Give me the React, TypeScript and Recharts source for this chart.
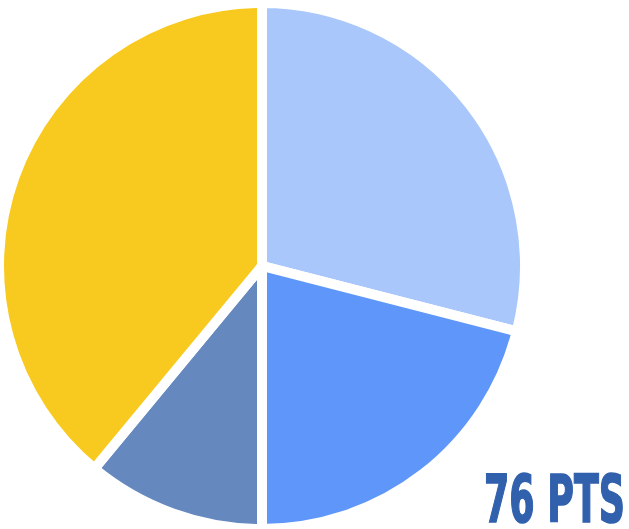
import React from "react";
import { PieChart, Pie, Cell } from "recharts";

const segments = ["Light", "Medium", "Dark", "Gold"];
const shares = [29, 21, 11, 39];
const colors = ["#A9C7FB", "#5E97F9", "#6588BF", "#F8CA1F"];
const totalLabel = "76 PTS";

const data = segments.map((name, i) => ({ name, value: shares[i] }));

export default function App() {
  return (
    <div style={{ position: "fixed", left: 0, top: 0, width: 629, height: 529, background: "#fff" }}>
      <PieChart width={629} height={529} margin={{ top: 0, right: 0, bottom: 0, left: 0 }}>
        <Pie
          data={data}
          dataKey="value"
          nameKey="name"
          cx={262}
          cy={266}
          outerRadius={263}
          startAngle={90}
          endAngle={-270}
          stroke="#ffffff"
          strokeWidth={10}
          isAnimationActive={false}
        >
          {data.map((d, i) => (
            <Cell key={d.name} fill={colors[i]} />
          ))}
        </Pie>
      </PieChart>
      <svg width={629} height={529} style={{ position: "absolute", left: 0, top: 0, pointerEvents: "none" }}>
        <g transform="translate(484,522) scale(1,1.62)">
          <text
            x={0}
            y={0}
            textLength={141}
            lengthAdjust="spacingAndGlyphs"
            fill="#3161AD"
            stroke="#3161AD"
            strokeWidth={1}
            fontFamily="'DejaVu Sans Condensed', 'Liberation Sans Narrow', sans-serif"
            fontWeight="bold"
            fontSize={41}
          >
            {totalLabel}
          </text>
        </g>
      </svg>
    </div>
  );
}
